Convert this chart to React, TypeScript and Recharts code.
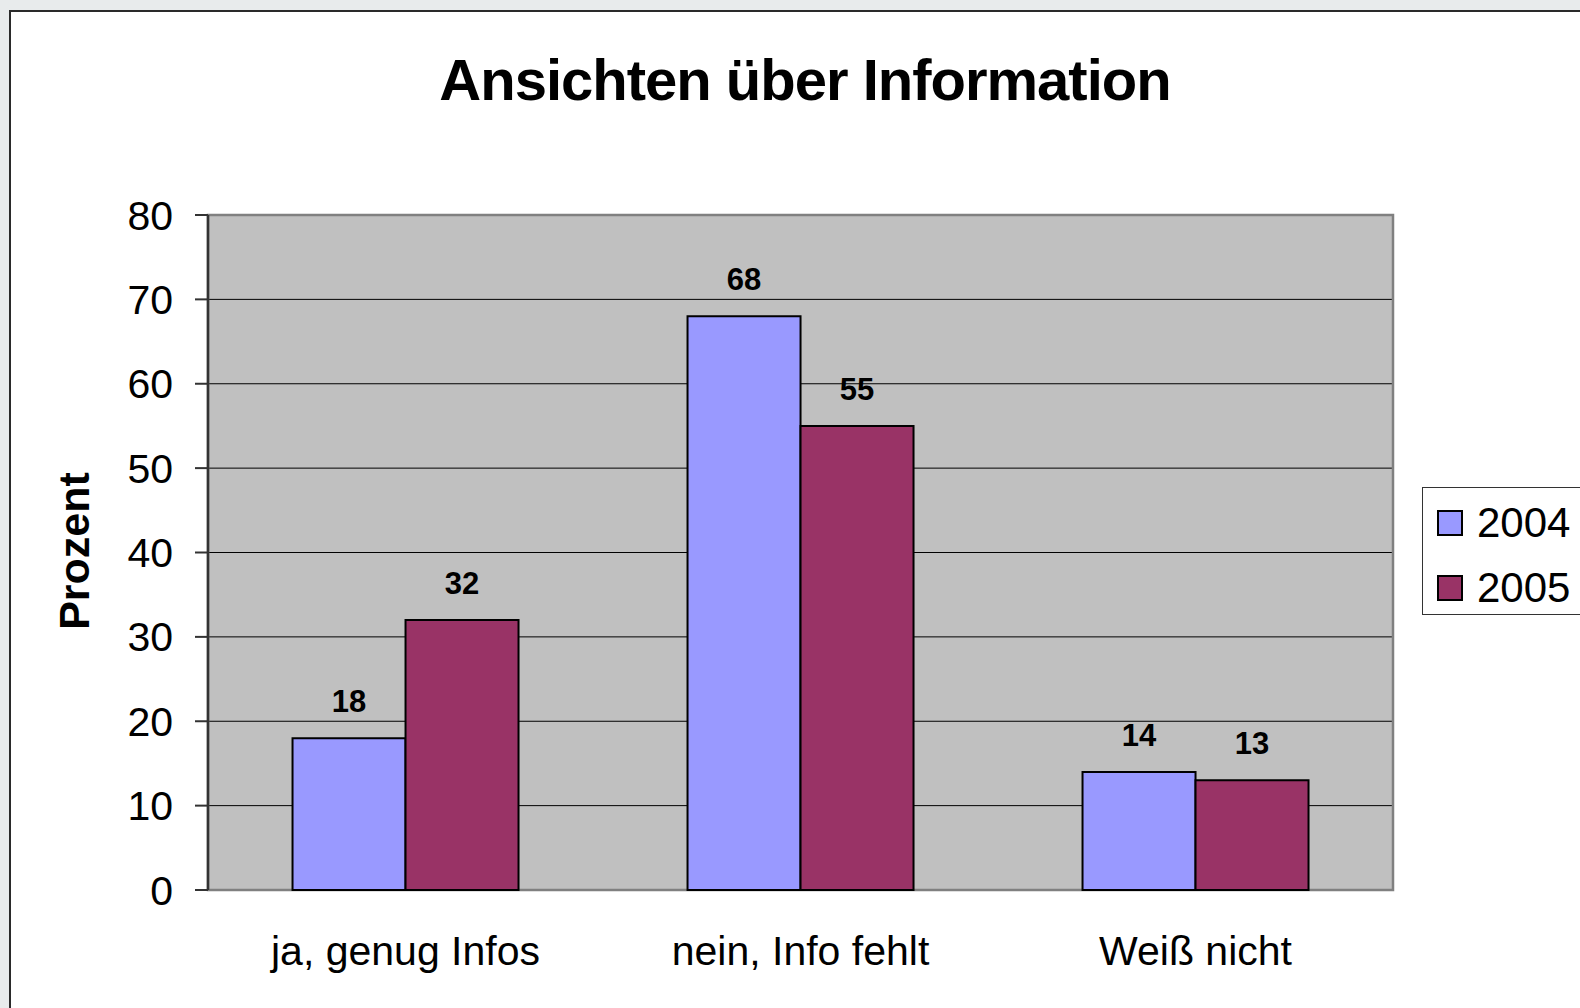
import React from 'react';
import {
  BarChart,
  Bar,
  XAxis,
  YAxis,
  CartesianGrid,
  Legend,
  LabelList,
  ReferenceArea,
} from 'recharts';

const categories = ['ja, genug Infos', 'nein, Info fehlt', 'Weiß nicht'];
const values2004 = [18, 68, 14];
const values2005 = [32, 55, 13];
const yTicks = [0, 10, 20, 30, 40, 50, 60, 70, 80];
const edgeTicks = [0, 1, 2, 3];

const seriesNames = { s2004: '2004', s2005: '2005' };
const colors = { s2004: '#9999ff', s2005: '#993366' };

const data = categories.map((c, i) => ({
  category: c,
  s2004: values2004[i],
  s2005: values2005[i],
}));

const FONT = "'Liberation Sans', Arial, Helvetica, sans-serif";

const LegendContent = (props: any) => {
  const payload = props.payload || [];
  return (
    <div
      style={{
        boxSizing: 'border-box',
        width: 220,
        height: 128,
        border: '1.5px solid #333',
        background: '#fff',
        paddingTop: 14,
        paddingLeft: 14,
        display: 'flex',
        flexDirection: 'column',
        gap: 22.5,
        fontFamily: FONT,
      }}
    >
      {payload.map((p: any) => (
        <div key={p.value} style={{ display: 'flex', alignItems: 'center', height: 42 }}>
          <div
            style={{
              boxSizing: 'border-box',
              width: 26,
              height: 26,
              background: p.color,
              border: '2px solid #000',
              marginRight: 14,
            }}
          />
          <span style={{ fontSize: 42, lineHeight: '42px', color: '#000' }}>{p.value}</span>
        </div>
      ))}
    </div>
  );
};

export default function App() {
  return (
    <div
      style={{
        position: 'fixed',
        left: 0,
        top: 0,
        width: 1580,
        height: 1008,
        overflow: 'hidden',
        background: '#e8ebec',
        fontFamily: FONT,
      }}
    >
      <div
        style={{
          position: 'absolute',
          left: 9,
          top: 10,
          width: 1700,
          height: 1100,
          background: '#fff',
          borderLeft: '2px solid #2a2a2a',
          borderTop: '2px solid #2a2a2a',
        }}
      />
      <div
        style={{
          position: 'absolute',
          left: 805,
          top: 51,
          transform: 'translateX(-50%)',
          fontSize: 58,
          lineHeight: '58px',
          fontWeight: 700,
          letterSpacing: -1,
          whiteSpace: 'nowrap',
          color: '#000',
        }}
      >
        Ansichten über Information
      </div>
      <div
        style={{
          position: 'absolute',
          left: 74,
          top: 551,
          transform: 'translate(-50%, -50%) rotate(-90deg)',
          fontSize: 43,
          lineHeight: '43px',
          fontWeight: 700,
          whiteSpace: 'nowrap',
          color: '#000',
        }}
      >
        Prozent
      </div>
      <div style={{ position: 'absolute', left: 0, top: 0 }}>
        <BarChart
          width={1580}
          height={1008}
          data={data}
          margin={{ top: 215, right: 187, bottom: 38, left: 108 }}
          barCategoryGap="21.4%"
          barGap={0}
          style={{ fontFamily: FONT }}
        >
          <CartesianGrid
            xAxisId="cat"
            vertical={false}
            horizontal={true}
            stroke="#000"
            strokeWidth={1}
            fill="#c0c0c0"
            fillOpacity={1}
          />
          <ReferenceArea
            xAxisId="cat"
            y1={0}
            y2={80}
            fill="none"
            fillOpacity={0}
            stroke="#808080"
            strokeWidth={2.5}
            ifOverflow="visible"
          />
          <XAxis
            xAxisId="edges"
            type="number"
            domain={[0, 3]}
            ticks={edgeTicks}
            allowDataOverflow
            height={0}
            tick={false}
            tickSize={13}
            tickLine={{ stroke: '#333', strokeWidth: 2 }}
            axisLine={{ stroke: '#333', strokeWidth: 2 }}
          />
          <XAxis
            xAxisId="cat"
            dataKey="category"
            height={80}
            interval={0}
            tickLine={false}
            axisLine={false}
            tickSize={0}
            tickMargin={46}
            tick={{ fontSize: 41, fill: '#000', fontFamily: FONT }}
          />
          <YAxis
            domain={[0, 80]}
            ticks={yTicks}
            width={100}
            tickSize={13}
            tickMargin={22}
            interval={0}
            tick={{ fontSize: 41, fill: '#000', fontFamily: FONT }}
            tickLine={{ stroke: '#333', strokeWidth: 2 }}
            axisLine={{ stroke: '#333', strokeWidth: 2.5 }}
          />
          <Legend
            layout="vertical"
            align="center"
            verticalAlign="middle"
            wrapperStyle={{ left: 1422, top: 487, width: 220, height: 128 }}
            content={<LegendContent />}
          />
          <Bar
            xAxisId="cat"
            dataKey="s2004"
            name={seriesNames.s2004}
            fill={colors.s2004}
            stroke="#000"
            strokeWidth={2}
            isAnimationActive={false}
          >
            <LabelList
              dataKey="s2004"
              position="top"
              offset={26}
              style={{ fontSize: 31, fontWeight: 700, fill: '#000', fontFamily: FONT }}
            />
          </Bar>
          <Bar
            xAxisId="cat"
            dataKey="s2005"
            name={seriesNames.s2005}
            fill={colors.s2005}
            stroke="#000"
            strokeWidth={2}
            isAnimationActive={false}
          >
            <LabelList
              dataKey="s2005"
              position="top"
              offset={26}
              style={{ fontSize: 31, fontWeight: 700, fill: '#000', fontFamily: FONT }}
            />
          </Bar>
        </BarChart>
      </div>
    </div>
  );
}
